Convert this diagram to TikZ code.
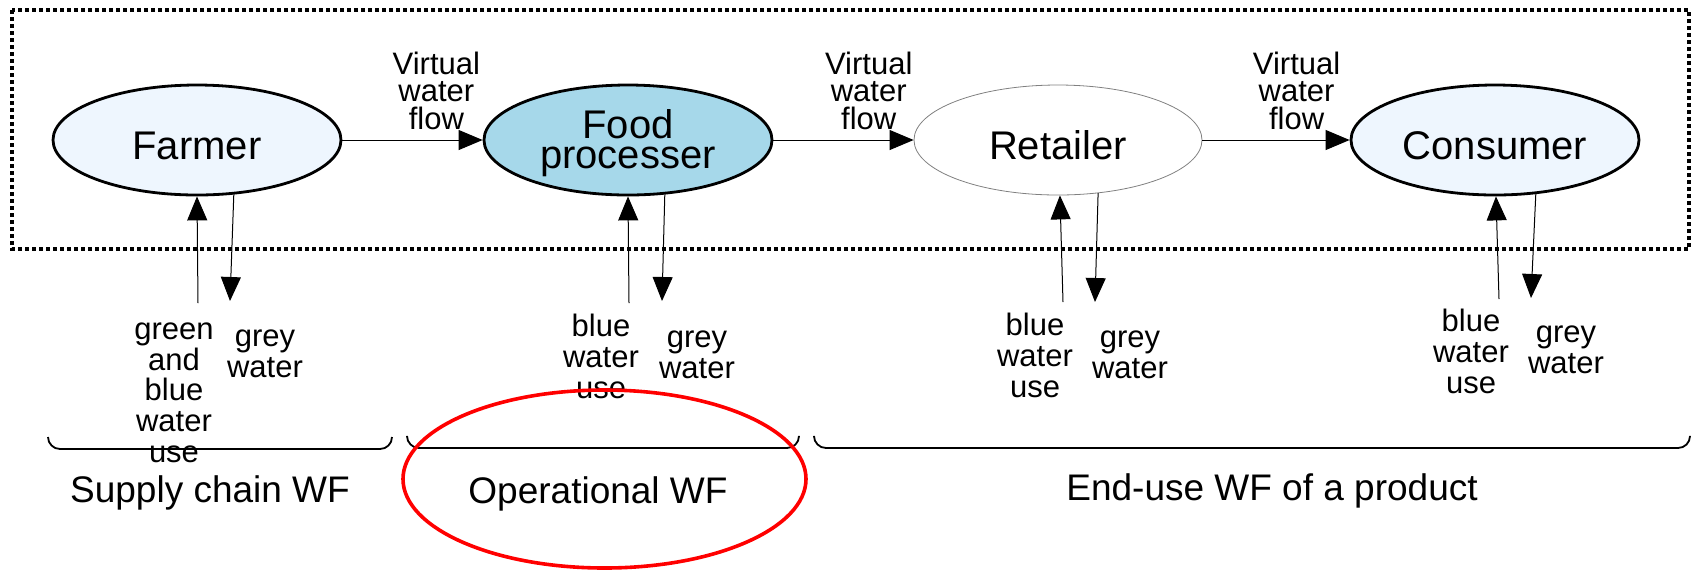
\documentclass[tikz,border=0pt]{standalone}
\usepackage{fontspec}
\setmainfont{Liberation Sans}
\usetikzlibrary{arrows.meta,shapes.geometric}

\definecolor{paleblue}{HTML}{EEF6FE}
\definecolor{foodblue}{HTML}{A6D8EA}

\tikzset{
  actor/.style={ellipse,draw,line width=1.4pt,minimum width=144pt,minimum height=55pt,inner sep=0pt,align=center,font=\fontsize{20}{15}\selectfont},
  oneline/.style={text height=19pt,text depth=0pt},
  flow/.style={-{Triangle[length=12pt,width=10pt]},line width=0.5pt},
  vwlabel/.style={align=center,inner sep=0pt,font=\fontsize{15.5}{13.75}\selectfont},
  uselabel/.style={align=center,inner sep=0pt,anchor=base,font=\fontsize{15.5}{15.3}\selectfont},
  wflabel/.style={inner sep=0pt,anchor=base,font=\fontsize{18.5}{22}\selectfont},
  brace/.style={line width=0.9pt,rounded corners=6pt}
}

\begin{document}
\begin{tikzpicture}[x=0.5pt,y=-0.5pt]
\useasboundingbox (0,0) rectangle (1692,570);
\draw [line width=1.7pt,dash pattern=on 2pt off 1.5pt] (12,10) rectangle (1689,249);

\node [actor,oneline,fill=paleblue] (farmer) at (197,140) {Farmer};
\node [actor,fill=foodblue,text height=32.6pt,text depth=4.2pt] (food) at (628,140) {Food\\processer};
\node [actor,oneline,draw=gray,line width=0.4pt] (retailer) at (1058,140) {Retailer};
\node [actor,oneline,fill=paleblue] (consumer) at (1495,140) {Consumer};

\draw [flow] (farmer) -- (food) node [vwlabel,pos=0.67,above=5pt] (vwf1) {Virtual\\water\\flow};
\draw [flow] (food) -- (retailer) node [vwlabel,pos=0.68,above=5pt] (vwf2) {Virtual\\water\\flow};
\draw [flow] (retailer) -- (consumer) node [vwlabel,pos=0.64,above=5pt] (vwf3) {Virtual\\water\\flow};

\coordinate (farmerin) at (198,303);
\coordinate (farmerout) at (230,301);
\coordinate (foodin) at (629,303);
\coordinate (foodout) at (662,301);
\coordinate (retailerin) at (1063,302);
\coordinate (retailerout) at (1095,302);
\coordinate (consumerin) at (1499,299);
\coordinate (consumerout) at (1531,298);

\draw [flow] (farmerin) -- (farmer.south);
\draw [flow] (farmer.-56) -- (farmerout);
\draw [flow] (foodin) -- (food.south);
\draw [flow] (food.-56) -- (foodout);
\draw [flow] (retailerin) -- (retailer.-88);
\draw [flow] (retailer.-53) -- (retailerout);
\draw [flow] (consumerin) -- (consumer.-89);
\draw [flow] (consumer.-53) -- (consumerout);

\node [uselabel] (farmeruse) at (174,462) {green\\and\\blue\\water\\use};
\node [uselabel] (farmergrey) at (265,377) {grey\\water};
\node [uselabel] (fooduse) at (601,398) {blue\\water\\use};
\node [uselabel] (foodgrey) at (697,378) {grey\\water};
\node [uselabel] (retaileruse) at (1035,397) {blue\\water\\use};
\node [uselabel] (retailergrey) at (1130,378) {grey\\water};
\node [uselabel] (consumeruse) at (1471,393) {blue\\water\\use};
\node [uselabel] (consumergrey) at (1566,373) {grey\\water};

\draw [brace] (48,437) -- (48,449) -- (392,449) -- (392,437);
\draw [brace] (407,437) -- (407,448) -- (799,448) -- (799,437);
\draw [brace] (814,437) -- (814,448) -- (1690,448) -- (1690,437);

\node [wflabel] (supplywf) at (210,502) {Supply chain WF};
\node [wflabel] (operwf) at (598,503) {Operational WF};
\node [wflabel] (endusewf) at (1272,500) {End-use WF of a product};

\node [ellipse,draw=red,line width=1.8pt,minimum width=201.5pt,minimum height=89pt,inner sep=0pt] (opmark) at (604.5,479) {};
\end{tikzpicture}
\end{document}
